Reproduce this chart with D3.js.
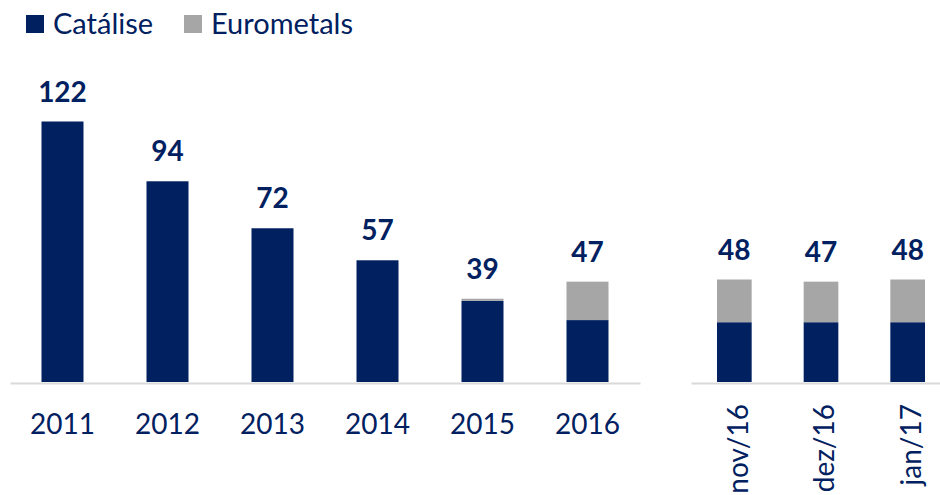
<!DOCTYPE html>
<html>
<head>
<meta charset="utf-8">
<script src="https://cdn.jsdelivr.net/npm/d3@7"></script>
<style>
  body { margin: 0; background: #fff; }
  svg { display: block; font-family: Lato, "Open Sans", sans-serif; }
</style>
</head>
<body>
<div id="chart"></div>
<script>
// data
const seriesNames = ["Catálise", "Eurometals"];
const years = ["2011", "2012", "2013", "2014", "2015", "2016"];
const yearCatalise = [122, 94, 72, 57, 38, 29];
const yearEurometals = [0, 0, 0, 0, 1, 18];
const months = ["nov/16", "dez/16", "jan/17"];
const monthCatalise = [28, 28, 28];
const monthEurometals = [20, 19, 20];

const width = 940, height = 495;
const navy = "#002060", grey = "#a6a6a6", axisGrey = "#d9d9d9";
const colors = { "Catálise": navy, "Eurometals": grey };

let svg = d3.select("#chart").append("svg")
	.attr("width", width)
	.attr("height", height);

let y = d3.scaleLinear().domain([0, 122]).range([382, 121.5]);

let stack = d3.stack().keys(seriesNames);

function toRows(cats, a, b) {
	return cats.map((c, i) => ({ cat: c, "Catálise": a[i], "Eurometals": b[i] }));
}

function drawPanel(cats, a, b, range, rotate) {
	let rows = toRows(cats, a, b);
	let x = d3.scaleBand().domain(cats).range(range).paddingInner(0.6).paddingOuter(0.3);
	let g = svg.append("g");

	let layers = stack(rows);
	g.selectAll("g.layer").data(layers).join("g")
		.attr("class", "layer")
		.attr("fill", d => colors[d.key])
		.selectAll("rect").data(d => d.filter(p => p[1] > p[0])).join("rect")
		.attr("x", d => x(d.data.cat))
		.attr("width", x.bandwidth())
		.attr("y", d => y(d[1]))
		.attr("height", d => y(d[0]) - y(d[1]));

	// totals above bars
	g.selectAll("text.total").data(rows).join("text")
		.attr("class", "total")
		.attr("x", d => x(d.cat) + x.bandwidth() / 2)
		.attr("y", d => y(d["Catálise"] + d["Eurometals"]) - 20)
		.attr("text-anchor", "middle")
		.attr("font-size", 28)
		.attr("font-weight", "bold")
		.attr("fill", navy)
		.text(d => d["Catálise"] + d["Eurometals"]);

	let axis = g.append("g")
		.attr("transform", "translate(0,383)")
		.call(d3.axisBottom(x).tickSize(0).tickSizeOuter(0));
	axis.select(".domain").attr("stroke", axisGrey).attr("stroke-width", 2);
	let lbl = axis.selectAll(".tick text")
		.attr("font-size", 28)
		.attr("font-family", "Lato, 'Open Sans', sans-serif")
		.attr("fill", navy);
	if (rotate) {
		lbl.attr("transform", "rotate(-90)")
			.attr("text-anchor", "end")
			.attr("x", -21)
			.attr("y", 0)
			.attr("dy", "0.47em");
	} else {
		lbl.attr("y", 51).attr("dy", 0);
	}
}

drawPanel(years, yearCatalise, yearEurometals, [10, 640], false);
drawPanel(months, monthCatalise, monthEurometals, [691, 951], true);

// legend
let legend = svg.append("g");
let lx = [26, 184];
seriesNames.forEach((name, i) => {
	legend.append("rect")
		.attr("x", lx[i]).attr("y", 15)
		.attr("width", 18).attr("height", 18)
		.attr("fill", colors[name]);
	legend.append("text")
		.attr("x", lx[i] + 27).attr("y", 33.5)
		.attr("font-size", 29)
		.attr("fill", navy)
		.text(name);
});
</script>
</body>
</html>
